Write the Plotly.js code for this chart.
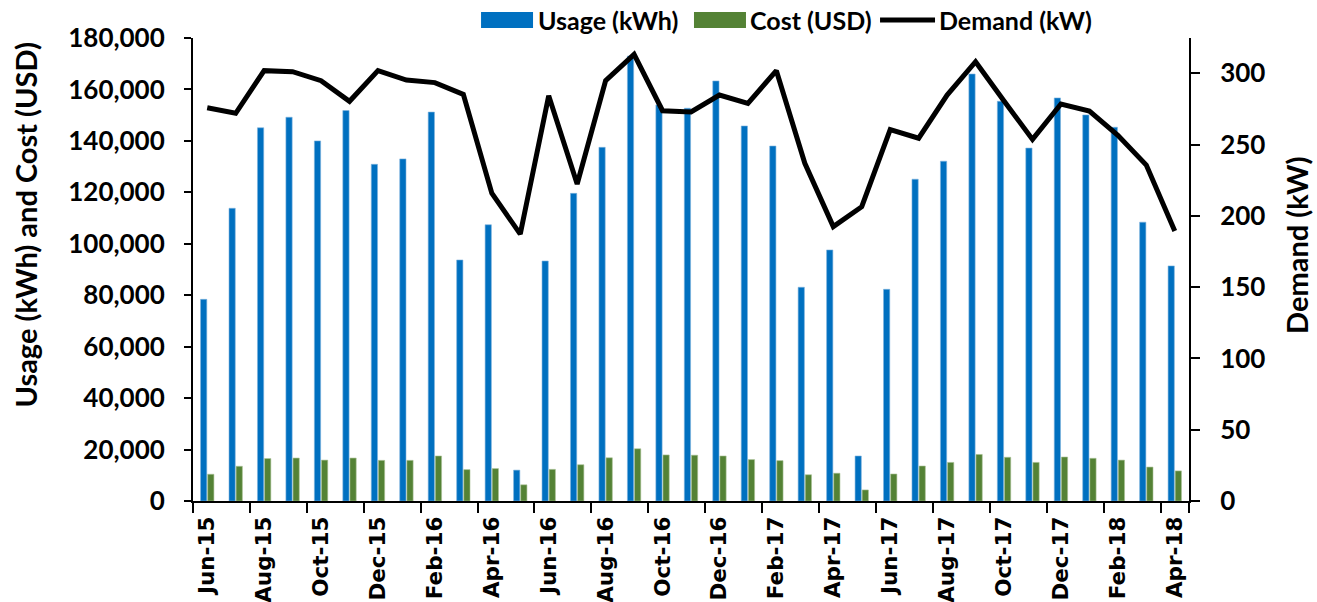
<!DOCTYPE html>
<html>
<head>
<meta charset="utf-8">
<script src="https://cdn.plot.ly/plotly-3.0.1.min.js"></script>
<style>
html,body{margin:0;padding:0;background:#fff;}
#chart{width:1317px;height:602px;}
</style>
</head>
<body>
<div id="chart"></div>
<script>
const months = ["Jun-15","Jul-15","Aug-15","Sep-15","Oct-15","Nov-15","Dec-15","Jan-16","Feb-16","Mar-16","Apr-16","May-16",
  "Jun-16","Jul-16","Aug-16","Sep-16","Oct-16","Nov-16","Dec-16","Jan-17","Feb-17","Mar-17","Apr-17","May-17",
  "Jun-17","Jul-17","Aug-17","Sep-17","Oct-17","Nov-17","Dec-17","Jan-18","Feb-18","Mar-18","Apr-18"];
const usageKWh = [78400,113800,145100,149200,140000,151800,130900,133000,151200,93700,107400,12000,
  93300,119600,137500,173000,154000,152700,163300,145800,138000,83100,97600,17500,
  82300,125100,132100,166000,155400,137200,156700,150100,145300,108400,91400];
const costUSD = [10400,13500,16500,16700,15900,16700,15800,15800,17500,12200,12600,6300,
  12300,14100,16800,20300,17900,17800,17500,16100,15700,10200,10800,4300,
  10500,13600,15000,18100,17000,15000,17100,16600,15900,13200,11700];
const demandKW = [275.8,271.9,301.8,301.1,294.8,280.3,301.8,295.2,293.4,285.2,215.8,187.2,
  284.2,222.3,294.8,313.2,273.7,272.8,284.7,278.9,301.8,236.8,192.4,206.4,
  260.4,254.4,284.7,308.1,280.5,253.6,278.4,273.5,256.5,235.6,189.3];
const tickLabels = months.filter((m, i) => i % 2 === 0);
const seriesNames = ["Usage (kWh)", "Cost (USD)", "Demand (kW)"];
const leftTitle = "Usage (kWh) and Cost (USD)";
const rightTitle = "Demand (kW)";

const FONT = "Lato, 'Open Sans', sans-serif";
const BLUE = '#0070C0', GREEN = '#548235', BLACK = '#000000';

const traces = [
  {type:'bar', name:seriesNames[0], x:months, y:usageKWh, marker:{color:BLUE, line:{color:'#7FB3DE', width:0.6}}, yaxis:'y'},
  {type:'bar', name:seriesNames[1], x:months, y:costUSD, marker:{color:GREEN, line:{color:'#A9C196', width:0.6}}, yaxis:'y'},
  {type:'scatter', mode:'lines', name:seriesNames[2], x:months, y:demandKW, line:{color:BLACK, width:5}, yaxis:'y2'}
];

// legend drawn at the top (paper coordinates)
const legY0 = 1.0216, legY1 = 1.0562, legYc = 1.0389;
const legFont = {family:FONT, size:25, color:'#000', weight:'bold'};
const legendShapes = [
  {type:'rect', xref:'paper', yref:'paper', x0:0.2892, x1:0.3414, y0:legY0, y1:legY1, fillcolor:BLUE, line:{width:0}},
  {type:'rect', xref:'paper', yref:'paper', x0:0.5030, x1:0.5552, y0:legY0, y1:legY1, fillcolor:GREEN, line:{width:0}},
  {type:'line', xref:'paper', yref:'paper', x0:0.6898, x1:0.7450, y0:legYc, y1:legYc, line:{color:BLACK, width:5}}
];
const legendTexts = [
  {text:seriesNames[0], xref:'paper', yref:'paper', x:0.3444, y:legYc, xanchor:'left', yanchor:'middle', showarrow:false, font:legFont},
  {text:seriesNames[1], xref:'paper', yref:'paper', x:0.5572, y:legYc, xanchor:'left', yanchor:'middle', showarrow:false, font:legFont},
  {text:seriesNames[2], xref:'paper', yref:'paper', x:0.7470, y:legYc, xanchor:'left', yanchor:'middle', showarrow:false, font:legFont}
];

const layout = {
  width:1317, height:602,
  margin:{l:193, r:128, t:38, b:101, autoexpand:false},
  paper_bgcolor:'#ffffff', plot_bgcolor:'#ffffff',
  barmode:'group', bargap:0.5, bargroupgap:0.12,
  showlegend:false,
  xaxis:{type:'category', tickmode:'array', tickvals:tickLabels, ticktext:tickLabels, tickson:'boundaries',
    tickangle:-90, ticks:'outside', ticklen:10, tickwidth:2, tickcolor:'#000',
    showline:true, linecolor:'#000', linewidth:2, showgrid:false, zeroline:false,
    tickfont:{family:"'DejaVu Sans', sans-serif", size:21.5, color:'#000', weight:'bold'}, ticklabelstandoff:5,
    range:[-0.5, 34.5], fixedrange:true},
  yaxis:{range:[0,180000], dtick:20000, tickformat:',d', ticks:'outside', ticklen:7, tickwidth:2, tickcolor:'#000',
    showline:true, linecolor:'#000', linewidth:2, showgrid:false, zeroline:false,
    tickfont:{family:FONT, size:26, color:'#000', weight:'bold'}, ticklabelstandoff:14},
  yaxis2:{overlaying:'y', side:'right', range:[0,324.7], dtick:50, ticks:'outside', ticklen:9, tickwidth:2, tickcolor:'#000',
    showline:true, linecolor:'#000', linewidth:2, showgrid:false, zeroline:false,
    tickfont:{family:FONT, size:26, color:'#000', weight:'bold'}, ticklabelstandoff:15},
  shapes:legendShapes,
  annotations:[
    {text:leftTitle, xref:'paper', yref:'paper', x:-0.1682, y:0.596, xanchor:'center', yanchor:'middle', textangle:-90, showarrow:false,
      font:{family:FONT, size:29, color:'#000', weight:'bold'}},
    {text:rightTitle, xref:'paper', yref:'paper', x:1.1084, y:0.553, xanchor:'center', yanchor:'middle', textangle:-90, showarrow:false,
      font:{family:FONT, size:29, color:'#000', weight:'bold'}}
  ].concat(legendTexts)
};

Plotly.newPlot('chart', traces, layout, {displayModeBar:false, staticPlot:true});
</script>
</body>
</html>
